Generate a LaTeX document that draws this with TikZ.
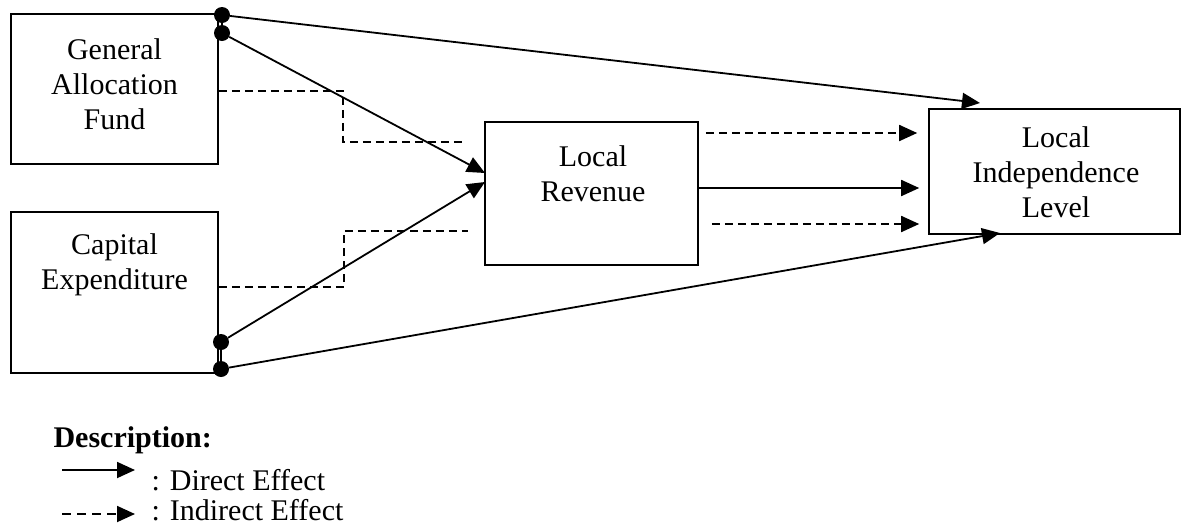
\documentclass[tikz,border=0pt]{standalone}
\usepackage{fontspec}
\setmainfont{Liberation Serif}
\usetikzlibrary{arrows.meta, positioning}

\begin{document}
\begin{tikzpicture}[x=1pt, y=-1pt,
		box/.style={draw, line width=1.6pt, inner sep=0pt},
		lbl/.style={align=center, font=\fontsize{30}{35}\selectfont},
		dot/.style={circle, fill, inner sep=0pt, minimum size=16pt},
		direct/.style={line width=1.8pt, -{Triangle[length=18pt, width=16pt]}},
		indirect/.style={line width=1.8pt, dash pattern=on 8pt off 5pt},
		indarrow/.style={indirect, -{Triangle[length=18pt, width=16pt]}}]
		\useasboundingbox (0,0) rectangle (1182,528);

		\node[box, minimum width=207pt, minimum height=150pt]	(Fund) at (114.5,89) {};
		\node[box, minimum width=207pt, minimum height=161pt]	(Capital) at (114.5,292.5) {};
		\node[box, minimum width=213pt, minimum height=143pt]	(Revenue) at (591.5,193.5) {};
		\node[box, minimum width=251pt, minimum height=125pt]	(Level) at (1054.5,171.5) {};

		\node[lbl]	(FundText) at (Fund) [yshift=5pt] {General\\Allocation\\Fund};
		\node[lbl]	(CapitalText) at (114.5,265) {Capital\\Expenditure};
		\node[lbl]	(RevenueText) at (593,174) {Local\\Revenue};
		\node[lbl]	(LevelText) at (1056,172) {Local\\Independence\\Level};

		% dots on the sources
		\node[dot]	(FundA) at (222,15) {};
		\node[dot]	(FundB) at (222,33) {};
		\node[dot]	(CapitalA) at (221,342) {};
		\node[dot]	(CapitalB) at (221,369) {};
		\draw[line width=1.6pt] (FundA) -- (FundB);
		\draw[line width=1.6pt] (CapitalA) -- (CapitalB);

		% arrow ends
		\coordinate	(LevelTop) at (980,103);
		\coordinate	(LevelBottom) at (1000,233);
		\coordinate	(RevenueTop) at (485,173);
		\coordinate	(RevenueBottom) at (485,182);
		\coordinate	(FundEnd) at (465,142);
		\coordinate	(CapitalEnd) at (468,231);

		% direct effects
		\draw[direct] (FundA) -- (LevelTop);
		\draw[direct] (FundB) -- (RevenueTop);
		\draw[direct] (CapitalA) -- (RevenueBottom);
		\draw[direct] (CapitalB) -- (LevelBottom);
		\draw[direct] (Revenue.east |- 0,188) -- (Level.west |- 0,188) [shorten >=9pt];

		% indirect effects
		\draw[indirect] (Fund.east |- 0,91) -- (343,91) |- (FundEnd);
		\draw[indirect] (Capital.east |- 0,287) -- (344,287) |- (CapitalEnd);
		\draw[indarrow] ([xshift=7pt]Revenue.east |- 0,133) -- ([xshift=-11pt]Level.west |- 0,133);
		\draw[indarrow] ([xshift=13pt]Revenue.east |- 0,224) -- ([xshift=-9pt]Level.west |- 0,224);

		% legend
		\node[lbl, anchor=west, font=\fontsize{30}{35}\selectfont\bfseries]	(Description) at (50,440) {Description:};
		\coordinate	(DirectA) at (62,470);
		\coordinate	(DirectB) at (135,470);
		\coordinate	(IndirectA) at (62,514);
		\coordinate	(IndirectB) at (135,514);
		\draw[direct] (DirectA) -- (DirectB);
		\draw[indarrow, dash pattern=on 9pt off 6pt] (IndirectA) -- (IndirectB);
		\node[lbl, anchor=west]	(DirectText) at (148,480) {: Direct Effect};
		\node[lbl, anchor=west]	(IndirectText) at (148,510) {: Indirect Effect};
	\end{tikzpicture}
\end{document}
